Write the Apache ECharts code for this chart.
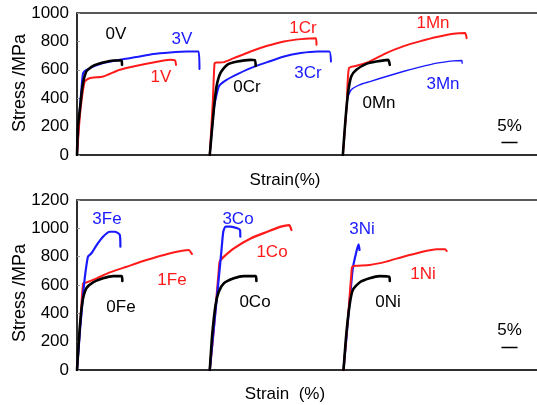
<!DOCTYPE html>
<html>
<head>
<meta charset="utf-8">
<script src="https://cdn.jsdelivr.net/npm/echarts@6/dist/echarts.min.js"></script>
<style>html,body{margin:0;padding:0;background:#fff}#c{width:537px;height:405px}</style>
</head>
<body>
<div id="c"></div>
<script>
// ---- data: [local strain %, stress MPa] ----
const offsetTop = [0, 41.3, 82.7];      // strain shift of each group (top panel)
const offsetBottom = [0, 41.3, 82.9];   // strain shift of each group (bottom panel)
const scaleBarStrain = 5;
const yTicksTop = [0, 200, 400, 600, 800, 1000];
const yTicksBottom = [0, 200, 400, 600, 800, 1000, 1200];

const c0V = [[0,0],[0.3,200],[0.8,300],[1.7,482],[2.9,588],[5.0,628],[8.1,651],[11.3,666],[13.9,666],[14.0,635]];
const c1V = [[0,0],[1.0,300],[2.4,517],[3.9,541],[8.1,553],[13.3,600],[18.6,628],[23.7,651],[28.9,670],[30.5,666],[30.8,635]];
const c3V = [[0,0],[0.8,300],[1.5,500],[1.9,577],[2.9,600],[8.1,647],[14.3,675],[18.5,690],[23.7,711],[28.9,722],[34.2,729],[37.8,729],[38.1,605]];

const c0Cr = [[0,0],[1.25,318],[2.1,482],[3.3,577],[5.4,635],[8.6,658],[12.7,670],[14.0,668],[14.3,628]];
const c1Cr = [[0,0],[1.0,400],[1.5,647],[2.3,651],[4.4,654],[7.5,682],[12.7,729],[17.9,769],[23.1,800],[28.3,816],[33.0,823],[33.2,776]];
const c3Cr = [[0,0],[1.3,330],[2.8,482],[4.4,517],[7.5,557],[12.7,612],[17.9,654],[23.1,694],[28.3,718],[33.5,729],[37.2,729],[37.7,658]];

const c0Mn = [[0,0],[0.8,247],[1.6,435],[2.6,553],[4.2,600],[7.3,642],[10.4,658],[14.1,670],[14.6,635]];
const c1Mn = [[0,0],[1.2,350],[1.9,612],[4.2,628],[8.3,658],[13.5,718],[18.75,765],[23.9,800],[29.2,831],[34.4,854],[38.0,859],[38.5,823]];
const c3Mn = [[0,0],[1.5,400],[2.6,459],[5.2,494],[8.4,517],[13.5,553],[18.75,588],[23.9,619],[29.2,647],[34.4,663],[37.0,666],[37.1,647]];

const c0Fe = [[0,0],[0.84,294],[1.7,482],[2.9,576],[5.0,618],[8.1,647],[11.25,663],[13.9,663],[14.1,628]];
const c1Fe = [[0,0],[1.0,320],[1.9,612],[2.9,618],[6.1,647],[10.2,689],[15.4,729],[20.6,769],[25.8,805],[31.1,835],[34.7,847],[35.75,820]];
const c3Fe = [[0,0],[1.0,300],[1.9,529],[2.4,647],[3.4,800],[4.5,824],[6.1,882],[8.1,941],[10.2,976],[11.8,976],[13.3,955],[13.5,870]];

const c0Co = [[0,0],[0.75,247],[1.8,459],[2.8,553],[4.4,612],[7.5,647],[10.6,663],[14.3,663],[14.5,628]];
const c1Co = [[0,0],[1.3,300],[2.8,700],[3.1,765],[4.4,800],[7.5,859],[12.7,929],[17.9,976],[22.1,1012],[24.7,1023],[25.4,988]];
const c3Co = [[0,0],[1.25,294],[2.8,647],[3.6,835],[4.2,976],[4.9,1012],[6.5,1012],[8.6,1000],[9.4,988],[9.5,941]];

const c0Ni = [[0,0],[0.84,247],[1.9,459],[2.9,565],[5.0,618],[8.1,647],[11.25,663],[14.2,659],[14.4,628]];
const c1Ni = [[0,0],[1.5,400],[2.5,700],[2.7,729],[4.0,736],[8.1,741],[13.3,765],[18.6,800],[23.75,830],[29.0,852],[31.6,852],[32.1,840]];
const c3Ni = [[0,0],[1.0,250],[1.9,482],[2.9,718],[4.0,835],[4.7,887],[5.0,847]];

// ---- styles / layout ----
const RED = '#ff1a1a', BLUE = '#1a1aff', BLACK = '#000000';
const curves = [
  // [data, grid index, group, color, width, label, labelX, labelY]
  [c3V, 0, 0, BLUE, 2, '3V', 182, 39], [c1V, 0, 0, RED, 2, '1V', 161, 77], [c0V, 0, 0, BLACK, 2.6, '0V', 116, 34],
  [c3Cr, 0, 1, BLUE, 2, '3Cr', 308, 73], [c1Cr, 0, 1, RED, 2, '1Cr', 303, 28], [c0Cr, 0, 1, BLACK, 2.6, '0Cr', 247, 87],
  [c3Mn, 0, 2, BLUE, 1.4, '3Mn', 443, 84], [c1Mn, 0, 2, RED, 2, '1Mn', 433, 23], [c0Mn, 0, 2, BLACK, 2.6, '0Mn', 379, 103],
  [c1Fe, 1, 0, RED, 2, '1Fe', 172, 280], [c3Fe, 1, 0, BLUE, 2.2, '3Fe', 107, 219], [c0Fe, 1, 0, BLACK, 2.6, '0Fe', 121, 307],
  [c1Co, 1, 1, RED, 2.2, '1Co', 272, 252], [c3Co, 1, 1, BLUE, 2.2, '3Co', 238, 219], [c0Co, 1, 1, BLACK, 2.6, '0Co', 255, 302],
  [c3Ni, 1, 2, BLUE, 2.2, '3Ni', 362, 229], [c1Ni, 1, 2, RED, 2, '1Ni', 423, 274], [c0Ni, 1, 2, BLACK, 2.6, '0Ni', 388, 302]
];

const FONT = 'Liberation Sans, Arial, sans-serif';
const chart = echarts.init(document.getElementById('c'), null, {renderer: 'canvas'});

const series = curves.map(c => {
  const off = (c[1] === 0 ? offsetTop : offsetBottom)[c[2]];
  return {
    type: 'line', xAxisIndex: c[1], yAxisIndex: c[1],
    data: c[0].map(p => [p[0] + off, p[1]]),
    showSymbol: false, symbol: 'none', animation: false,
    smooth: 0.2,
    lineStyle: {color: c[3], width: c[4], cap: 'round', join: 'round'},
    silent: true
  };
});

const labelGraphics = curves.map(c => ({
  type: 'text', x: c[6], y: c[7],
  style: {text: c[5], fill: c[3], font: '17px ' + FONT, align: 'center', verticalAlign: 'middle'}
}));

function yAxisCfg(grid, max, ticks) {
  return {
    type: 'value', gridIndex: grid, min: 0, max: max, interval: 200,
    axisLine: {show: true, lineStyle: {color: '#222', width: 1.5}},
    axisTick: {show: true, inside: true, length: 3, lineStyle: {color: '#999'}},
    axisLabel: {color: '#000', fontSize: 17, fontFamily: FONT, margin: 8,
      formatter: v => ticks.indexOf(v) >= 0 ? String(v) : ''},
    splitLine: {show: false}
  };
}
function xAxisCfg(grid) {
  return {
    type: 'value', gridIndex: grid, min: 0, max: 143.4,
    axisLine: {show: true, onZero: false, lineStyle: {color: '#222', width: 1.5}},
    axisTick: {show: false}, axisLabel: {show: false}, splitLine: {show: false}
  };
}

chart.setOption({
  animation: false,
  backgroundColor: '#fff',
  grid: [
    {left: 77, top: 13, right: -1, height: 142, show: true, borderColor: '#222', borderWidth: 1.5,
     containLabel: false, outerBoundsMode: 'none'},
    {left: 77, top: 200, right: -1, height: 170, show: true, borderColor: '#222', borderWidth: 1.5,
     containLabel: false, outerBoundsMode: 'none'}
  ],
  xAxis: [xAxisCfg(0), xAxisCfg(1)],
  yAxis: [yAxisCfg(0, 1000, yTicksTop), yAxisCfg(1, 1200, yTicksBottom)],
  series: series
});

// scale bars (length = 5 % strain) and titles
const px0 = chart.convertToPixel({xAxisIndex: 0}, 0);
const px5 = chart.convertToPixel({xAxisIndex: 0}, scaleBarStrain);
const barLen = px5 - px0;
const txt = (t, x, y, size, rot) => ({type: 'text', x: x, y: y, rotation: rot || 0,
  style: {text: t, fill: '#000', font: size + 'px ' + FONT, align: 'center', verticalAlign: 'middle'}});
const extra = [
  txt('Stress /MPa', 20, 83, 18, Math.PI / 2),
  txt('Stress /MPa', 20, 293, 18, Math.PI / 2),
  txt('Strain(%)', 285, 180, 17),
  txt('Strain  (%)', 285, 394, 17),
  txt(scaleBarStrain + '%', 509.5, 126, 17),
  txt(scaleBarStrain + '%', 509.5, 330, 17),
  {type: 'line', shape: {x1: 509.5 - barLen / 2, y1: 142.5, x2: 509.5 + barLen / 2, y2: 142.5}, style: {stroke: '#000', lineWidth: 1.5}},
  {type: 'line', shape: {x1: 509.5 - barLen / 2, y1: 347.5, x2: 509.5 + barLen / 2, y2: 347.5}, style: {stroke: '#000', lineWidth: 1.5}}
];
chart.setOption({graphic: labelGraphics.concat(extra)});
</script>
</body>
</html>
